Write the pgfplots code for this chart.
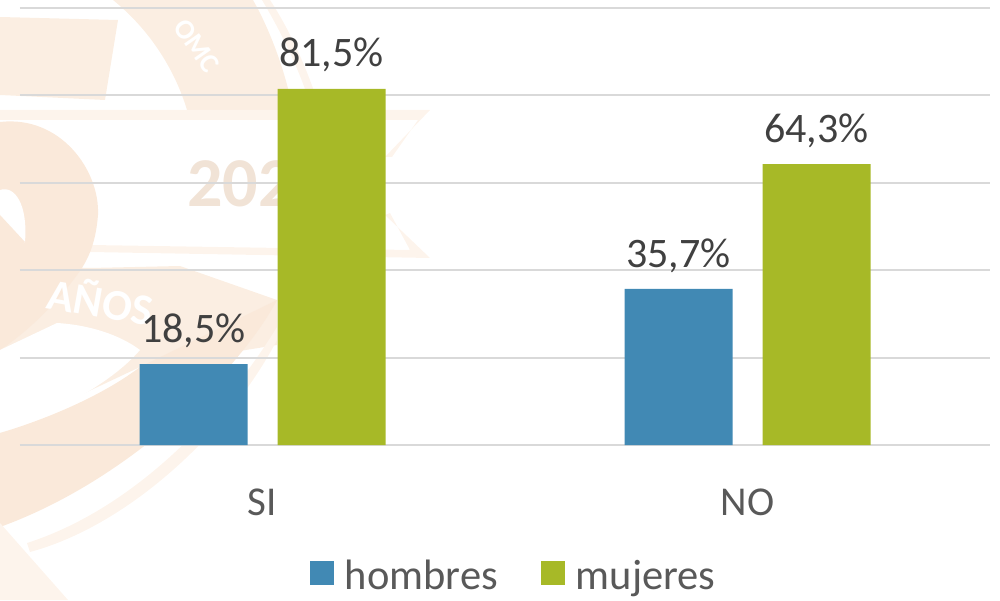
\documentclass[border=0pt]{standalone}
\usepackage{pgfplots}
\pgfplotsset{compat=1.18}
\usepackage{fontspec}
\setmainfont{Carlito}
\definecolor{wm}{HTML}{FBEEE2}
\definecolor{wmb}{HTML}{FAE9DA}
\definecolor{wml}{HTML}{FDF4EC}
\definecolor{wmt}{HTML}{F1E3D6}
\definecolor{blu}{HTML}{4189B4}
\definecolor{grn}{HTML}{A7B927}
\begin{document}
\begin{tikzpicture}[x=1pt,y=1pt]
\useasboundingbox (0,0) rectangle (1000,600);
% faint watermark behind the chart
\begin{scope}[yshift=600pt,y=-1pt]
\clip (0,0) rectangle (1000,600);
% top-left block
\fill[wm] (0,17) -- (118,20) -- (105,100) -- (0,95) -- cycle;
% arc ring
\fill[wm] (113,0) .. controls (150,30) and (175,70) .. (187,110) -- (293,110) .. controls (285,70) and (270,30) .. (253,0) -- cycle;
\fill[wml] (270,0) .. controls (290,30) and (310,75) .. (320,110) -- (312,110) .. controls (300,70) and (280,30) .. (262,0) -- cycle;
% star bands
\fill[wml] (0,110) -- (430,110) -- (385,157) -- (392,157) -- (418,120) -- (0,120) -- cycle;
\fill[wml] (90,252) -- (430,258) -- (385,215) -- (390,213) -- (410,250) -- (90,245) -- cycle;
% swoosh and big numeral
\fill[wm] (90,268) -- (180,266) -- (277,300) -- (277,345) -- (140,367) -- (0,433) -- (0,268) -- cycle;
\fill[wmb] (0,122) .. controls (60,115) and (100,170) .. (98,215) .. controls (96,240) and (90,255) .. (82,268) .. controls (60,300) and (30,330) .. (0,350) -- cycle;
\fill[white] (0,190) .. controls (15,185) and (28,205) .. (25,242) -- (0,270) -- cycle;
\fill[wmb] (0,215) -- (25,242) -- (0,275) -- cycle;
\fill[white] (0,350) -- (57,323) .. controls (90,325) and (120,335) .. (140,350) .. controls (110,385) and (50,415) .. (0,433) -- cycle;
\fill[wmb] (0,433) .. controls (60,415) and (110,390) .. (140,367) -- (277,300) .. controls (240,370) and (130,480) .. (0,527) -- cycle;
\fill[wml] (27,543) .. controls (130,510) and (220,420) .. (277,327) -- (277,340) .. controls (230,430) and (130,525) .. (30,552) -- cycle;
\fill[wml] (0,523) -- (68,600) -- (0,600) -- cycle;
% watermark lettering
\node[text=wmt,font=\fontsize{70}{70}\selectfont\bfseries,anchor=base west,inner sep=0pt] at (187,207) {202};
\node[text=white,font=\fontsize{44}{44}\selectfont\bfseries,anchor=base west,inner sep=0pt,rotate=-10] at (45,308) {AÑOS};
\node[text=white,font=\fontsize{28}{28}\selectfont\bfseries,rotate=-55,inner sep=0pt] at (197,46) {OMC};
\end{scope}
\begin{axis}[
  at={(20pt,155pt)}, anchor=south west,
  scale only axis, width=970pt, height=437pt,
  xmin=-0.5, xmax=1.5, ymin=0, ymax=100,
  ytick={0,20,40,60,80,100}, yticklabels={},
  xtick={0,1}, xticklabels={SI,NO},
  ymajorgrids, grid style={draw=black!15,line width=2pt},
  axis line style={draw=none},
  major tick length=0pt,
  ticklabel style={font=\fontsize{41}{41}\selectfont,text=black!65},
  xticklabel style={yshift=-40pt},
  ybar, bar width=108pt,
  every axis plot/.append style={draw=none},
  nodes near coords,
  point meta=explicit symbolic,
  nodes near coords style={font=\fontsize{42}{42}\selectfont,text=black!75,anchor=south,yshift=13pt},
  legend columns=2,
  legend style={draw=none,fill=none,at={(0.509,-0.298)},anchor=center,
    font=\fontsize{42.5}{42.5}\selectfont,text=black!65,
    /tikz/every odd column/.append style={column sep=9pt},
    /tikz/every even column/.append style={column sep=41pt}},
  legend image code/.code={\fill[#1] (-2pt,-10pt) rectangle (22pt,14pt);},
]
\addplot[fill=blu,bar shift=-69pt] coordinates {(0,18.5)[18,5\%] (1,35.7)[35,7\%]};
\addplot[fill=grn,bar shift=69pt] coordinates {(0,81.5)[81,5\%] (1,64.3)[64,3\%]};
\legend{hombres,mujeres}
\end{axis}
\end{tikzpicture}
\end{document}
